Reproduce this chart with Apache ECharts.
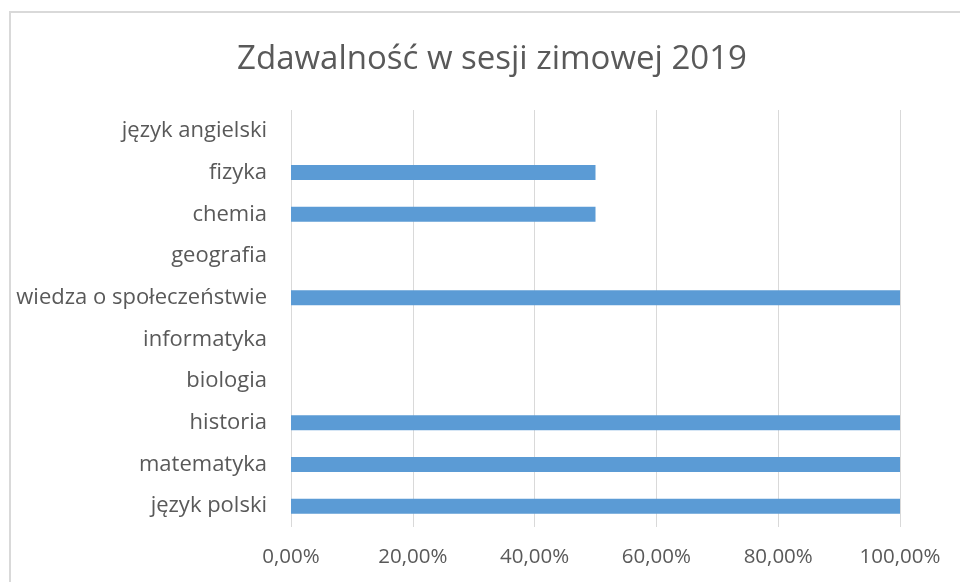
<!DOCTYPE html>
<html>
<head>
<meta charset="utf-8">
<script src="https://cdn.jsdelivr.net/npm/echarts@6/dist/echarts.min.js"></script>
<style>
  html, body { margin: 0; padding: 0; background: #fff; }
  #chart { width: 960px; height: 582px; }
</style>
</head>
<body>
<div id="chart"></div>
<script>
// bottom to top, as in the reference
const subjects = [
  "język polski", "matematyka", "historia", "biologia", "informatyka",
  "wiedza o społeczeństwie", "geografia", "chemia", "fizyka", "język angielski",
];
const passRate = [1, 1, 1, 0, 0, 1, 0, 0.5, 0.5, 0];

const FONT = "'Open Sans', Lato, sans-serif";
const TEXT = "#595959";
const GRID_LINE = "#d9d9d9";

const chart = echarts.init(document.getElementById("chart"), null, { renderer: "canvas" });

chart.setOption({
  backgroundColor: "#fff",
  animation: false,
  title: {
    text: "Zdawalność w sesji zimowej 2019",
    left: 487,
    textAlign: "center",
    top: 38,
    textStyle: { color: TEXT, fontFamily: FONT, fontSize: 33, fontWeight: "normal" },
  },
  graphic: [{
    type: "rect",
    shape: { x: 10, y: 12, width: 1200, height: 1200 },
    style: { fill: "none", stroke: GRID_LINE, lineWidth: 2 },
    silent: true,
  }],
  grid: { left: 291, right: 60, top: 110, bottom: 55, containLabel: false },
  xAxis: {
    type: "value",
    min: 0,
    max: 1,
    interval: 0.2,
    axisLine: { show: false },
    axisTick: { show: false },
    splitLine: { show: true, lineStyle: { color: GRID_LINE, width: 1 } },
    axisLabel: {
      color: TEXT,
      fontFamily: FONT,
      fontSize: 20.5,
      margin: 20,
      formatter: (v) => (v * 100).toFixed(2).replace(".", ",") + "%",
    },
  },
  yAxis: {
    type: "category",
    data: subjects,
    axisLine: { show: false },
    axisTick: { show: false },
    splitLine: { show: false },
    axisLabel: { color: TEXT, fontFamily: FONT, fontSize: 22, margin: 24 },
  },
  series: [{
    type: "bar",
    data: passRate,
    barWidth: 15,
    itemStyle: { color: "#5b9bd5" },
  }],
});
</script>
</body>
</html>
